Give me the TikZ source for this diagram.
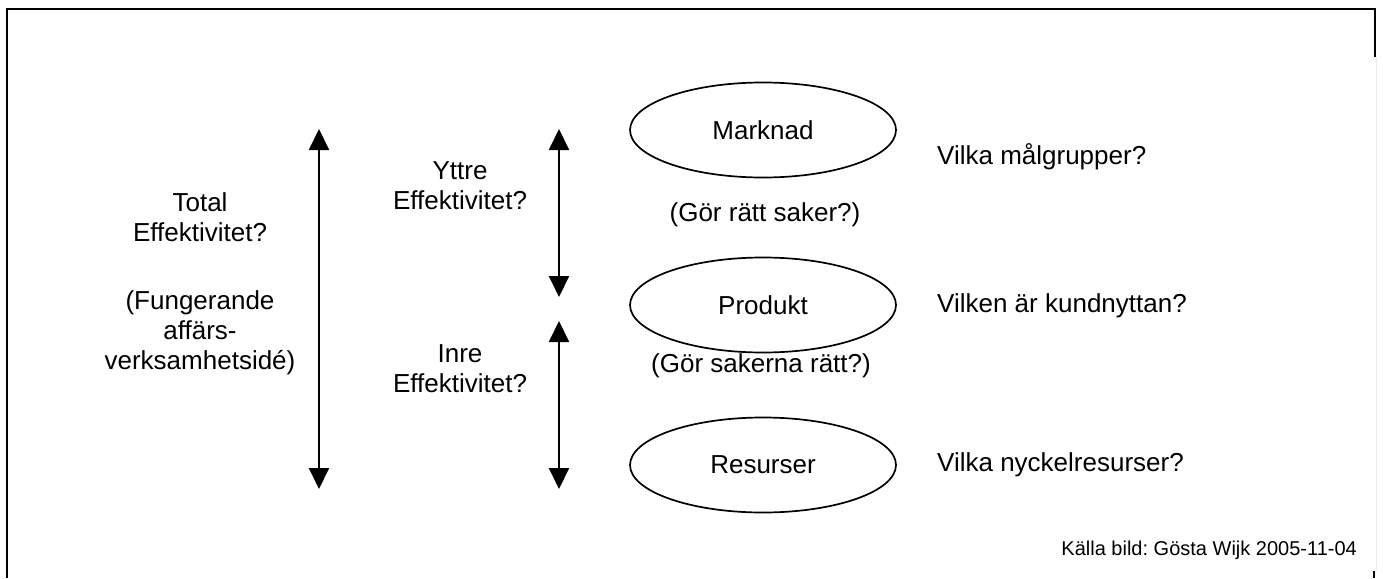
\documentclass[tikz,border=0pt]{standalone}
\usepackage{fontspec}
\setmainfont{Liberation Sans}
\frenchspacing
\usetikzlibrary{arrows.meta,shapes.geometric}
\begin{document}
\begin{tikzpicture}[x=1pt,y=-1pt,
  lbl/.style={font=\fontsize{26}{30}\selectfont, align=center, inner sep=0pt},
  rlbl/.style={font=\fontsize{26}{30}\selectfont, anchor=west, inner sep=0pt},
  level/.style={draw, line width=1.7pt, ellipse, minimum width=266pt, minimum height=95pt,
    inner sep=0pt, font=\fontsize{26}{30}\selectfont},
  span/.style={line width=2pt, {Triangle[width=20pt,length=21pt]}-{Triangle[width=20pt,length=21pt]}},
  frameline/.style={line width=2.8pt}]
\useasboundingbox (0,0) rectangle (1383,578);

% frame
\draw[frameline] (7,578) -- (7,9) -- (1375,9) -- (1375,57);
\draw[line width=1pt, black!8] (1376.5,57) -- (1376.5,571);
\draw[line width=2pt] (1374,571) -- (1374,578);

% levels
\node[level] (mark) at (763,130) {Marknad};
\node[level] (prod) at (763,305) {Produkt};
\node[level] (res)  at (763,465) {Resurser};

\node[lbl] (q1) at (765,215) {(Gör rätt saker?)};
\node[lbl] (q2) at (761,366) {(Gör sakerna rätt?)};

\node[rlbl] (v1) at (937,157) {Vilka målgrupper?};
\node[rlbl] (v2) at (937,306) {Vilken är kundnyttan?};
\node[rlbl] (v3) at (937,465) {Vilka nyckelresurser?};

% efficiency labels
\node[lbl] (tot) at (200,217) {Total\\Effektivitet?};
\node[lbl] (fun) at (200,333) {(Fungerande\\affärs-\\verksamhetsidé)};
\node[lbl] (ytt) at (460,186) {Yttre\\Effektivitet?};
\node[lbl] (inr) at (460,369) {Inre\\Effektivitet?};

% spans
\coordinate (t1) at (319,129);
\coordinate (b1) at (319,489);
\coordinate (t2) at (559,129);
\coordinate (b2) at (559,297);
\coordinate (t3) at (559,321);
\coordinate (b3) at (559,489);
\draw[span] (t1) -- (b1);
\draw[span] (t2) -- (b2);
\draw[span] (t3) -- (b3);

\node[font=\fontsize{20}{24}\selectfont, anchor=east, inner sep=0pt] (src) at (1357,550)
  {Källa bild: Gösta Wijk 2005-11-04};
\end{tikzpicture}
\end{document}
